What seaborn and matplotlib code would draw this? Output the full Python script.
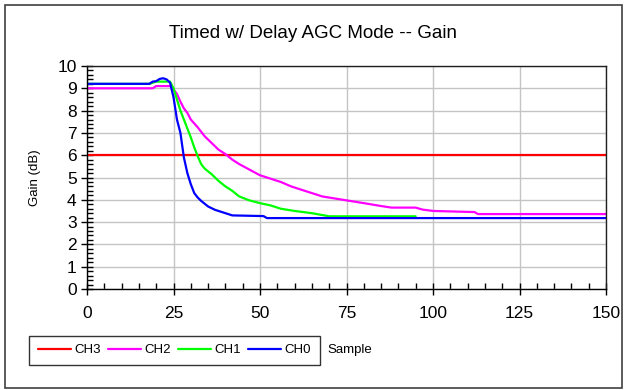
import matplotlib
matplotlib.use("Agg")
import matplotlib.pyplot as plt
from matplotlib.patches import Rectangle
from matplotlib.ticker import MultipleLocator
import seaborn as sns
import pandas as pd

# ---- data ----
ch3_x = [0, 150]
ch3_y = [6.0, 6.0]

ch2_x = [0, 19, 20, 24, 25, 26, 27, 28, 29, 30, 32, 34, 36, 38, 40, 42, 44, 47, 50, 53,
         56, 59, 62, 65, 68, 72, 76, 80, 85, 88, 95, 97, 100, 112, 113, 150]
ch2_y = [9.0, 9.0, 9.1, 9.1, 8.95, 8.75, 8.4, 8.1, 7.9, 7.6, 7.25, 6.85, 6.55, 6.25, 6.05, 5.8,
         5.6, 5.35, 5.1, 4.95, 4.8, 4.6, 4.45, 4.3, 4.15, 4.05, 3.95, 3.85, 3.72, 3.65, 3.65,
         3.56, 3.5, 3.45, 3.36, 3.36]

ch1_x = [0, 18, 19, 20, 24, 25, 26, 27, 28, 29, 30, 31, 32, 33, 34, 36, 38, 40, 42, 44, 47,
         50, 53, 56, 60, 65, 70, 95]
ch1_y = [9.2, 9.2, 9.25, 9.3, 9.3, 9.0, 8.5, 8.0, 7.6, 7.2, 6.8, 6.35, 5.95, 5.6, 5.4, 5.15,
         4.85, 4.6, 4.4, 4.15, 3.97, 3.85, 3.75, 3.6, 3.5, 3.4, 3.26, 3.26]

ch0_x = [0, 18, 19, 20, 21, 22, 23, 24, 25, 26, 27, 28, 29, 30, 31, 32, 33, 35, 37, 39, 42,
         51, 52, 150]
ch0_y = [9.2, 9.2, 9.3, 9.32, 9.42, 9.45, 9.4, 9.25, 8.6, 7.6, 7.0, 5.9, 5.2, 4.7, 4.3, 4.1,
         3.95, 3.7, 3.55, 3.45, 3.3, 3.27, 3.18, 3.18]

channels = ["CH3", "CH2", "CH1", "CH0"]
colors = ["#FF0000", "#FF00FF", "#00FF00", "#0000FF"]

frames = []
for name, xs, ys in [("CH3", ch3_x, ch3_y), ("CH2", ch2_x, ch2_y),
                     ("CH1", ch1_x, ch1_y), ("CH0", ch0_x, ch0_y)]:
    frames.append(pd.DataFrame({"Sample": xs, "Gain": ys, "Channel": name}))
df = pd.concat(frames, ignore_index=True)

sns.set_theme(style="white")
plt.rcParams["font.family"] = ["Liberation Sans", "DejaVu Sans"]

fig = plt.figure(figsize=(6.28, 3.90), dpi=100)
ax = fig.add_axes([87 / 628, 1 - 289 / 390, (606 - 87) / 628, (289 - 66) / 390])

sns.lineplot(data=df, x="Sample", y="Gain", hue="Channel", hue_order=channels,
             palette=colors, sort=False, estimator=None, linewidth=1.6, ax=ax,
             legend=True)

ax.set_xlim(0, 150)
ax.set_ylim(0, 10)
ax.xaxis.set_major_locator(MultipleLocator(25))
ax.xaxis.set_minor_locator(MultipleLocator(5))
ax.yaxis.set_major_locator(MultipleLocator(1))
ax.yaxis.set_minor_locator(MultipleLocator(0.2))
ax.grid(True, which="major", color="#C4C4C4", linewidth=1.0)
ax.set_axisbelow(True)

for side in ["left", "bottom", "top", "right"]:
    ax.spines[side].set_color("black")
    ax.spines[side].set_linewidth(1.0)
ax.spines["top"].set_color("#202020")
ax.spines["right"].set_color("#202020")

ax.tick_params(axis="both", which="major", direction="inout", length=8, width=1,
               color="black", labelsize=12.5, colors="black")
ax.tick_params(axis="x", which="major", pad=8)
ax.tick_params(axis="both", which="minor", direction="in", length=4, width=1,
               color="black")
ax.tick_params(bottom=True, left=True, which="both")

ax.set_xlabel("")
ax.set_ylabel("Gain (dB)", fontsize=9.5, color="black", labelpad=12)
fig.text(313 / 628, 1 - 33 / 390, "Timed w/ Delay AGC Mode -- Gain", fontsize=13.5,
         color="black", ha="center", va="center")

handles, labels = ax.get_legend_handles_labels()
ax.legend_.remove()
leg = fig.legend(handles, labels, loc="upper left",
                 bbox_to_anchor=(29 / 628, 1 - 335.5 / 390), bbox_transform=fig.transFigure,
                 ncol=4, frameon=True, fancybox=False, edgecolor="black",
                 fontsize=9.5, handlelength=2.5, handletextpad=0.3, columnspacing=0.5,
                 borderpad=0.65, borderaxespad=0.0)
leg.get_frame().set_linewidth(1.0)
for t in leg.get_texts():
    t.set_color("black")

fig.text(327 / 628, 1 - 350 / 390, "Sample", fontsize=9.5, color="black",
         ha="left", va="center")

fig.patches.append(Rectangle((5 / 628, 2 / 390), 617 / 628, 383 / 390,
                             transform=fig.transFigure, fill=False,
                             edgecolor="#404040", linewidth=1.2))

fig.savefig("out.png", dpi=100)
